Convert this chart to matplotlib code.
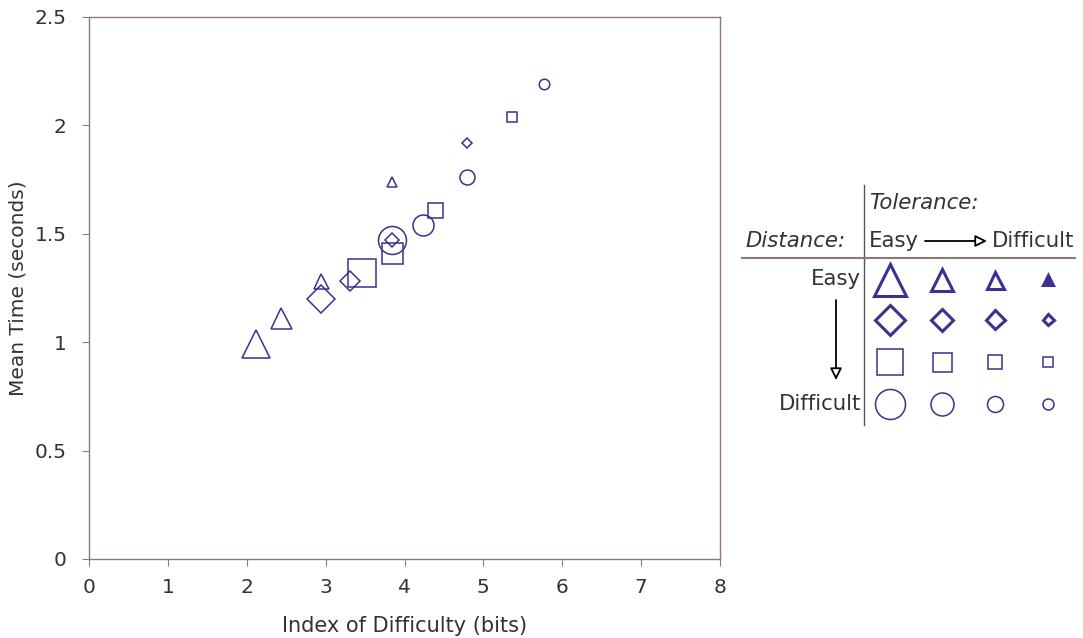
import numpy as np
import matplotlib
matplotlib.use("Agg")
import matplotlib.pyplot as plt

plt.rcParams['font.family'] = ['DejaVu Sans']

# ---- data: 4 distance levels (shape) x 4 tolerance levels (size: easy -> difficult)
distance_labels = ["Easy", "", "", "Difficult"]
tolerance_labels = ["Easy", "", "", "Difficult"]
shapes = ['^', 'D', 's', 'o']

id_tri = [2.12, 2.44, 2.94, 3.84]
mt_tri = [0.99, 1.11, 1.28, 1.74]
id_dia = [2.94, 3.31, 3.84, 4.79]
mt_dia = [1.20, 1.28, 1.47, 1.92]
id_sq = [3.46, 3.84, 4.39, 5.36]
mt_sq = [1.32, 1.41, 1.61, 2.04]
id_ci = [3.84, 4.23, 4.79, 5.77]
mt_ci = [1.47, 1.54, 1.76, 2.19]

xticks = [0, 1, 2, 3, 4, 5, 6, 7, 8]
yticks = [0, 0.5, 1, 1.5, 2, 2.5]
ytick_labels = ["0", "0.5", "1", "1.5", "2", "2.5"]

series_x = [id_tri, id_dia, id_sq, id_ci]
series_y = [mt_tri, mt_dia, mt_sq, mt_ci]

# styles
COL = '#3a3191'
SPINE = '#8c7b72'
TXT = '#333333'
W, H = 1083, 638
DPI = 100
px = 72.0 / DPI
size_px = [28, 21, 15, 10.5]

def ms_for(shape, w):
    return w * px / (np.sqrt(2) if shape == 'D' else 1.0)

fig = plt.figure(figsize=(W / DPI, H / DPI), dpi=DPI)
ax = fig.add_axes([89 / W, 1 - 559 / H, (720 - 89) / W, (559 - 17) / H])

for shp, xs, ys in zip(shapes, series_x, series_y):
    for j, (x, y) in enumerate(zip(xs, ys)):
        ax.plot([x], [y], marker=shp, ms=ms_for(shp, size_px[j]),
                mfc='none', mec=COL, mew=1.1, ls='none')

ax.set_xlim(0, 8)
ax.set_ylim(0, 2.5)
ax.set_xticks(xticks)
ax.set_yticks(yticks)
ax.set_yticklabels(ytick_labels)
for s in ax.spines.values():
    s.set_color(SPINE)
    s.set_linewidth(1.0)
ax.tick_params(axis='both', direction='out', length=5, width=0.8, color=SPINE,
               labelsize=14.5, labelcolor=TXT)
ax.tick_params(axis='y', pad=11)
ax.tick_params(axis='x', pad=9)
ax.set_xlabel("Index of Difficulty (bits)", fontsize=15, color=TXT, labelpad=13)
ax.set_ylabel("Mean Time (seconds)", fontsize=14.5, color=TXT, labelpad=5)

# ---- legend panel drawn in pixel coordinates
lg = fig.add_axes([0, 0, 1, 1])
lg.set_xlim(0, W)
lg.set_ylim(H, 0)
lg.axis('off')
lg.patch.set_alpha(0)

lg.plot([864, 864], [185, 425], color='#555555', lw=1.0)
lg.plot([742, 1075], [258, 258], color=SPINE, lw=1.5)
fs = 15.3
lg.text(869, 203, "Tolerance:", style='italic', fontsize=fs, color=TXT, ha='left', va='center')
lg.text(846, 241, "Distance:", style='italic', fontsize=fs, color=TXT, ha='right', va='center')
lg.text(869, 241, tolerance_labels[0], fontsize=fs, color=TXT, ha='left', va='center')
lg.text(1074, 241, tolerance_labels[3], fontsize=fs, color=TXT, ha='right', va='center')
lg.text(861, 279, distance_labels[0], fontsize=fs, color=TXT, ha='right', va='center')
lg.text(861, 404, distance_labels[3], fontsize=fs, color=TXT, ha='right', va='center')
lg.annotate("", xy=(987, 241), xytext=(925, 241),
            arrowprops=dict(arrowstyle='-|>,head_length=0.7,head_width=0.35', fc='white',
                            ec='black', lw=1.3, shrinkA=0, shrinkB=0))
lg.annotate("", xy=(836, 380), xytext=(836, 300),
            arrowprops=dict(arrowstyle='-|>,head_length=0.7,head_width=0.35', fc='white',
                            ec='black', lw=1.3, shrinkA=0, shrinkB=0))

leg_cols = [890, 942, 995, 1048]
leg_rows = [280, 320, 362, 404]
leg_sizes = [[32, 23, 17, 10], [30, 22, 19, 11], [27, 19, 14, 9.5], [30, 23, 16, 11]]
leg_mew = [2.2, 2.2, 1.1, 1.1]
for i, shp in enumerate(shapes):
    for j in range(4):
        filled = (i == 0 and j == 3)
        lg.plot([leg_cols[j]], [leg_rows[i]], marker=shp,
                ms=ms_for(shp, leg_sizes[i][j]),
                mfc=COL if filled else 'none', mec=COL, mew=leg_mew[i], ls='none')

fig.savefig("out.png", dpi=DPI, facecolor='white')
